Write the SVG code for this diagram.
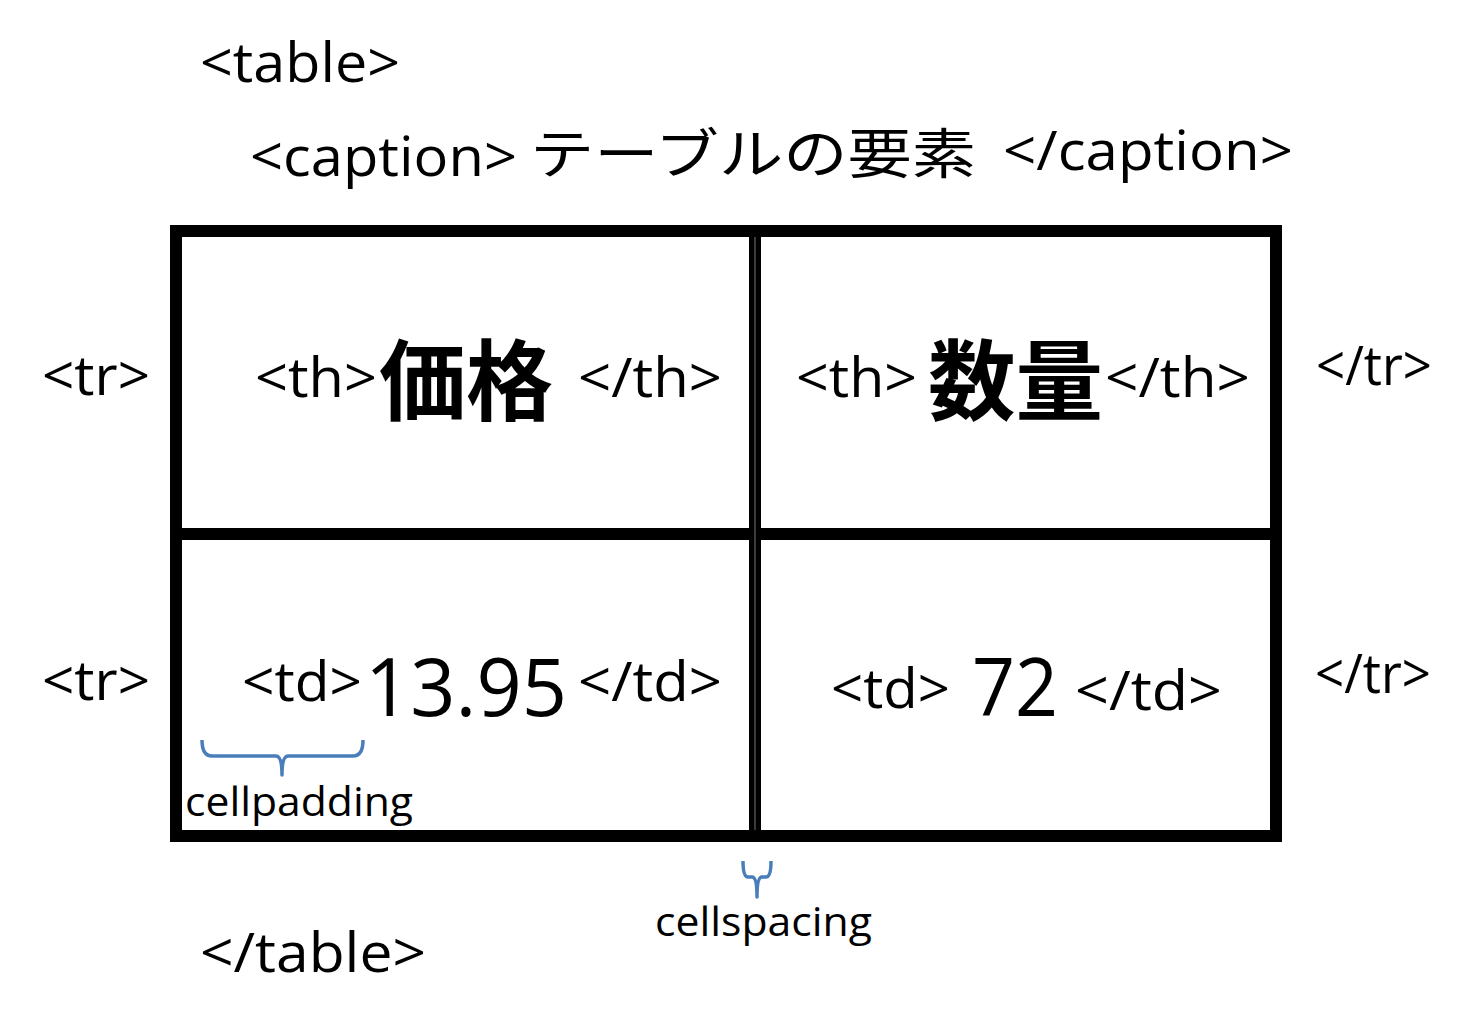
<svg xmlns="http://www.w3.org/2000/svg" width="1469" height="1032" viewBox="0 0 1469 1032">
<style>
text{font-family:"Open Sans","Noto Sans CJK JP",sans-serif;fill:#000}
.t{font-size:54px}
.jp{font-family:"Noto Sans CJK JP",sans-serif}
.b{font-family:"Noto Sans CJK JP",sans-serif;font-weight:700;font-size:88px}
.s{font-size:40px}
.line{stroke:#000;stroke-width:12;fill:none}
.brace{stroke:#4a7ebb;stroke-width:3.5;fill:none;stroke-linejoin:round}
</style>
<rect width="1469" height="1032" fill="#fff"/>
<g id="table-tags">
<text class="t" x="200" y="82" textLength="200" lengthAdjust="spacingAndGlyphs">&lt;table&gt;</text>
<text class="t" x="200" y="972" textLength="226" lengthAdjust="spacingAndGlyphs">&lt;/table&gt;</text>
</g>
<g id="caption">
<text class="t" x="250" y="176" textLength="267" lengthAdjust="spacingAndGlyphs">&lt;caption&gt;</text>
<text class="t jp" x="530" y="174" font-size="56" textLength="446" lengthAdjust="spacingAndGlyphs">テーブルの要素</text>
<text class="t" x="1003" y="170" textLength="290" lengthAdjust="spacingAndGlyphs">&lt;/caption&gt;</text>
</g>
<g id="grid">
<rect class="line" x="176" y="231" width="1100" height="605"/>
<line class="line" x1="755" y1="231" x2="755" y2="836"/>
<line class="line" x1="176" y1="534" x2="1276" y2="534"/>
<line x1="755" y1="237" x2="755" y2="830" stroke="#777" stroke-width="1"/>
</g>
<g id="row-tags">
<text class="t" x="42" y="395" textLength="108" lengthAdjust="spacingAndGlyphs">&lt;tr&gt;</text>
<text class="t" x="42" y="700" textLength="108" lengthAdjust="spacingAndGlyphs">&lt;tr&gt;</text>
<text class="t" x="1316" y="385" textLength="116" lengthAdjust="spacingAndGlyphs">&lt;/tr&gt;</text>
<text class="t" x="1315" y="693" textLength="116" lengthAdjust="spacingAndGlyphs">&lt;/tr&gt;</text>
</g>
<g id="cell-th1">
<text class="t" x="255" y="397" textLength="122" lengthAdjust="spacingAndGlyphs">&lt;th&gt;</text>
<text class="b" x="379" y="413" textLength="174" lengthAdjust="spacingAndGlyphs">価格</text>
<text class="t" x="578" y="397" textLength="144" lengthAdjust="spacingAndGlyphs">&lt;/th&gt;</text>
</g>
<g id="cell-th2">
<text class="t" x="796" y="397" textLength="121" lengthAdjust="spacingAndGlyphs">&lt;th&gt;</text>
<text class="b" x="928" y="413" textLength="175" lengthAdjust="spacingAndGlyphs">数量</text>
<text class="t" x="1105" y="397" textLength="145" lengthAdjust="spacingAndGlyphs">&lt;/th&gt;</text>
</g>
<g id="cell-td1">
<text class="t" x="242" y="701" textLength="120" lengthAdjust="spacingAndGlyphs">&lt;td&gt;</text>
<text x="365" y="716" font-size="80" textLength="202" lengthAdjust="spacingAndGlyphs">13.95</text>
<text class="t" x="578" y="701" textLength="144" lengthAdjust="spacingAndGlyphs">&lt;/td&gt;</text>
</g>
<g id="cell-td2">
<text class="t" x="831" y="708" textLength="119" lengthAdjust="spacingAndGlyphs">&lt;td&gt;</text>
<text x="972" y="716" font-size="80" textLength="86" lengthAdjust="spacingAndGlyphs">72</text>
<text class="t" x="1075" y="710" textLength="147" lengthAdjust="spacingAndGlyphs">&lt;/td&gt;</text>
</g>
<g id="annotations">
<path class="brace" d="M202,740 Q202,756 212,756 L276,756 Q282,756 282,775 Q282,756 288,756 L353,756 Q363,756 363,740"/>
<text class="s" x="185" y="816" textLength="228" lengthAdjust="spacingAndGlyphs">cellpadding</text>
<path class="brace" d="M743,861 Q743,877 748,877 L752,877 Q757,877 757,897 Q757,877 762,877 L766,877 Q771,877 771,861"/>
<text class="s" x="655" y="936" textLength="217" lengthAdjust="spacingAndGlyphs">cellspacing</text>
</g>
</svg>
